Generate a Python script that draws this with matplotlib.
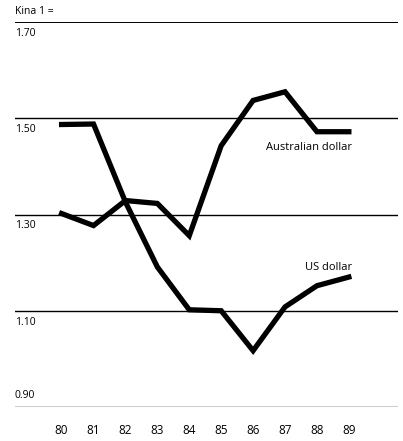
import numpy as np
import matplotlib
matplotlib.use('Agg')
import matplotlib.pyplot as plt
import matplotlib.transforms as mtransforms

years = ['80', '81', '82', '83', '84', '85', '86', '87', '88', '89']
us_dollar = [1.487, 1.488, 1.326, 1.191, 1.102, 1.100, 1.017, 1.108, 1.152, 1.170]
aus_dollar = [1.302, 1.277, 1.329, 1.323, 1.256, 1.443, 1.537, 1.555, 1.472, 1.472]
grid_vals = [1.70, 1.50, 1.30, 1.10, 0.90]
grid_labels = ['1.70', '1.50', '1.30', '1.10', '0.90']

plt.rcParams['font.family'] = ['Open Sans', 'DejaVu Sans']

W, H = 403, 441
fig = plt.figure(figsize=(W / 100, H / 100), dpi=100)
ax = fig.add_axes([15 / W, 1 - 407 / H, (398 - 15) / W, (407 - 22) / H])
x = np.arange(len(years))
ax.set_xlim(-1.46, 10.54)
ax.set_ylim(0.90, 1.70)

for v in grid_vals:
    lw = 1.4 if v == 1.70 else 1.0
    ax.axhline(v, color='black', lw=lw, zorder=1)

ax.plot(x, us_dollar, color='black', lw=3.8, solid_joinstyle='miter', zorder=3)
ax.plot(x, aus_dollar, color='black', lw=3.8, solid_joinstyle='miter', zorder=3)

trans = mtransforms.blended_transform_factory(ax.transAxes, ax.transData)
for v, lab in zip(grid_vals, grid_labels):
    if v == 0.90:
        ax.text(0, v + 0.012, lab, transform=trans, fontsize=7.5, va='bottom', ha='left')
    else:
        ax.text(0, v - 0.012, lab, transform=trans, fontsize=7.5, va='top', ha='left')
ax.text(0, 1.70 + 0.01, 'Kina 1 =', transform=trans, fontsize=7.5, va='bottom', ha='left')

ax.text(9.1, 1.44, 'Australian dollar', fontsize=8, ha='right', va='center')
ax.text(9.1, 1.178, 'US dollar', fontsize=8, ha='right', va='bottom')

ax.set_xticks(x)
ax.set_xticklabels(years, fontsize=8.5)
ax.tick_params(axis='x', length=0, pad=12)
ax.set_yticks([])
for s in ax.spines.values():
    s.set_visible(False)

fig.savefig('out.png', dpi=100, facecolor='white')
